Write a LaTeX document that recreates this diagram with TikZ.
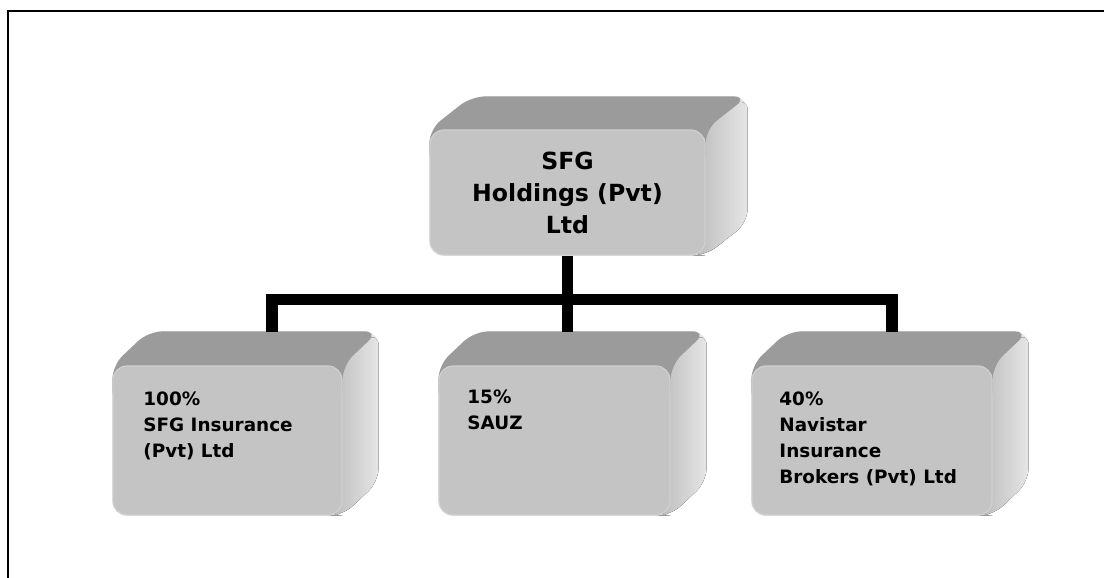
\documentclass[tikz,border=0pt]{standalone}
\usepackage{fontspec}
\setmainfont{DejaVu Sans}
\usetikzlibrary{calc,backgrounds}
\definecolor{FaceFront}{HTML}{C4C4C4}
\definecolor{FaceEdge}{HTML}{D0D0D0}
\definecolor{FaceTop}{HTML}{9B9B9B}
\definecolor{FaceSideDark}{HTML}{B9B9B9}
\definecolor{FaceSideLight}{HTML}{E6E6E6}
\definecolor{Ink}{HTML}{000000}

\tikzset{
  frontface/.style={fill=FaceFront, draw=FaceEdge, line width=0.6pt, rounded corners=7pt, inner sep=0pt},
  boxtext/.style={anchor=north west, inner sep=0pt, align=left, text=Ink, font=\bfseries\fontsize{9.2}{13}\selectfont},
  bar/.style={Ink, line width=5.8pt}
}

% top and right faces of a box, behind its front node
\newcommand{\boxsides}[3]{%
  \begin{scope}[on background layer]
    \fill[FaceSideLight, rounded corners=7pt] (#1.south west) -- (#1.north west) -- ++(#2,-#3) -- ($(#1.north east)+(#2,-#3)$) -- ($(#1.south east)+(#2,-#3)$) -- (#1.south east) -- cycle;
    \fill[left color=FaceSideDark, right color=FaceSideLight, rounded corners=7pt] ($(#1.north east)+(-14,0)$) -- ($(#1.north east)+(#2,-#3)$) -- ($(#1.south east)+(#2,-#3)$) -- (#1.south east) -- ($(#1.south east)+(-14,0)$) -- cycle;
    \fill[FaceTop, rounded corners=7pt] ($(#1.north west)+(0,40)$) -- (#1.north west) -- ++(#2,-#3) -- ($(#1.north east)+(#2,-#3)$) -- (#1.north east) -- ($(#1.north east)+(0,40)$) -- cycle;
  \end{scope}}

\begin{document}
\begin{tikzpicture}[x=0.5pt,y=-0.5pt]
\useasboundingbox (0,0) rectangle (1104,578);
\draw[Ink, line width=1pt] (7.5,578) -- (7.5,10.8) -- (1104,10.8);
% holding company
\node[frontface, minimum width=137.5pt, minimum height=62.5pt, align=center, text=Ink, font=\bfseries\fontsize{11.8}{16}\selectfont] (holdings) at (567.5,192.5) {SFG\\Holdings (Pvt)\\Ltd};
\boxsides{holdings}{42}{33}
% subsidiaries
\node[frontface, minimum width=114.5pt, minimum height=74.5pt] (ins) at (227.5,440.5) {};
\boxsides{ins}{36}{34}
\node[boxtext] (ins-txt) at (143,391) {100\%\\SFG Insurance\\(Pvt) Ltd};
\node[frontface, minimum width=115.5pt, minimum height=74.5pt] (sauz) at (554.5,440.5) {};
\boxsides{sauz}{36}{34}
\node[boxtext] (sauz-txt) at (467,389) {15\%\\SAUZ};
\node[frontface, minimum width=120pt, minimum height=74.5pt] (nav) at (872,440.5) {};
\boxsides{nav}{36}{34}
\node[boxtext] (nav-txt) at (779,391) {40\%\\Navistar\\Insurance\\Brokers (Pvt) Ltd};
% connectors
\coordinate (junc) at ($(holdings.south)+(0,44)$);
\coordinate (ins-top) at (272,332);
\coordinate (sauz-top) at (junc |- ins-top);
\coordinate (nav-top) at (892,332);
\draw[bar] (holdings.south) -- (sauz-top);
\draw[bar] (ins-top) |- (junc) -| (nav-top);
\end{tikzpicture}
\end{document}
